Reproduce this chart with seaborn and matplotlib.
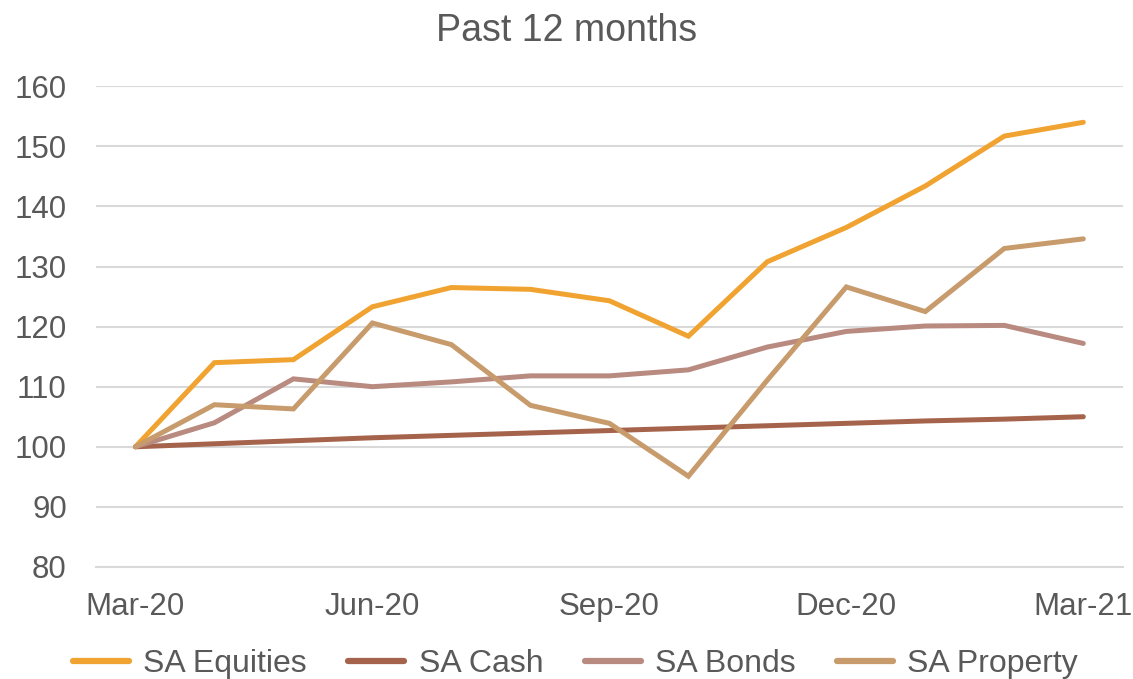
import numpy as np
import pandas as pd
import matplotlib
matplotlib.use("Agg")
import matplotlib.pyplot as plt
import seaborn as sns

# month labels (every month, Mar-20 .. Mar-21)
months = ["Mar-20", "Apr-20", "May-20", "Jun-20", "Jul-20", "Aug-20", "Sep-20",
          "Oct-20", "Nov-20", "Dec-20", "Jan-21", "Feb-21", "Mar-21"]

# index values, rebased to 100
sa_equities = [100, 114.0, 114.5, 123.3, 126.5, 126.2, 124.3, 118.4, 130.8, 136.5, 143.4, 151.7, 154.0]
sa_cash = [100, 100.5, 101.0, 101.5, 101.9, 102.3, 102.7, 103.1, 103.5, 103.9, 104.3, 104.6, 105.0]
sa_bonds = [100, 104.0, 111.3, 110.0, 110.8, 111.8, 111.8, 112.8, 116.6, 119.2, 120.1, 120.2, 117.2]
sa_property = [100, 107.0, 106.3, 120.6, 117.0, 106.9, 103.9, 95.1, 111.1, 126.6, 122.5, 133.0, 134.6]

series_names = ["SA Equities", "SA Cash", "SA Bonds", "SA Property"]
colors = ["#F0A330", "#A5634B", "#B88A80", "#C79B6B"]

frames = []
for name, vals in zip(series_names, [sa_equities, sa_cash, sa_bonds, sa_property]):
    frames.append(pd.DataFrame({"pos": np.arange(len(months)), "value": vals, "series": name}))
df = pd.concat(frames, ignore_index=True)

sns.set_style("white")
plt.rcParams["font.family"] = ["Liberation Sans", "DejaVu Sans"]
text_col = "#595959"
grid_col = "#D9D9D9"

fig = plt.figure(figsize=(11.33, 6.79), dpi=100)
ax = fig.add_axes([0.0847, 0.165, 0.9063, 0.708])

sns.lineplot(data=df, x="pos", y="value", hue="series", hue_order=series_names,
             palette=colors, linewidth=3.6, ax=ax, legend=True,
             solid_capstyle="round", solid_joinstyle="miter")

ax.set_xlim(-0.5, len(months) - 0.5)
ax.set_ylim(80, 160)
ax.set_yticks(range(80, 161, 10))
ax.yaxis.grid(True, color=grid_col, linewidth=1.5)
ax.set_axisbelow(True)

# labels every 3 months at category centres, tick marks on category boundaries
ax.set_xticks(range(0, len(months), 3))
ax.set_xticklabels(months[::3])
ax.set_xticks(np.arange(-0.5, len(months) - 0.5, 3), minor=True)
ax.tick_params(axis="x", which="major", length=0, pad=18, labelsize=22.5, labelcolor=text_col)
ax.tick_params(axis="x", which="minor", length=8, width=1.5, color=grid_col, direction="out")
ax.tick_params(axis="y", length=0, pad=21, labelsize=22.5, labelcolor=text_col)

for s in ["top", "right", "left"]:
    ax.spines[s].set_visible(False)
ax.spines["bottom"].set_color(grid_col)
ax.spines["bottom"].set_linewidth(1.5)
ax.set_xlabel("")
ax.set_ylabel("")

fig.text(0.5, 1 - 31 / 679, "Past 12 months", ha="center", va="center",
         fontsize=27, color=text_col)

handles, labels = ax.get_legend_handles_labels()
ax.legend(handles, labels, loc="center", bbox_to_anchor=(0.508, 1 - 664 / 679),
          bbox_transform=fig.transFigure, ncol=4, frameon=False,
          fontsize=23, labelcolor=text_col, handlelength=1.75,
          handletextpad=0.45, columnspacing=1.3)
for line in ax.get_legend().get_lines():
    line.set_linewidth(4.5)

fig.savefig("out.png", dpi=100)
